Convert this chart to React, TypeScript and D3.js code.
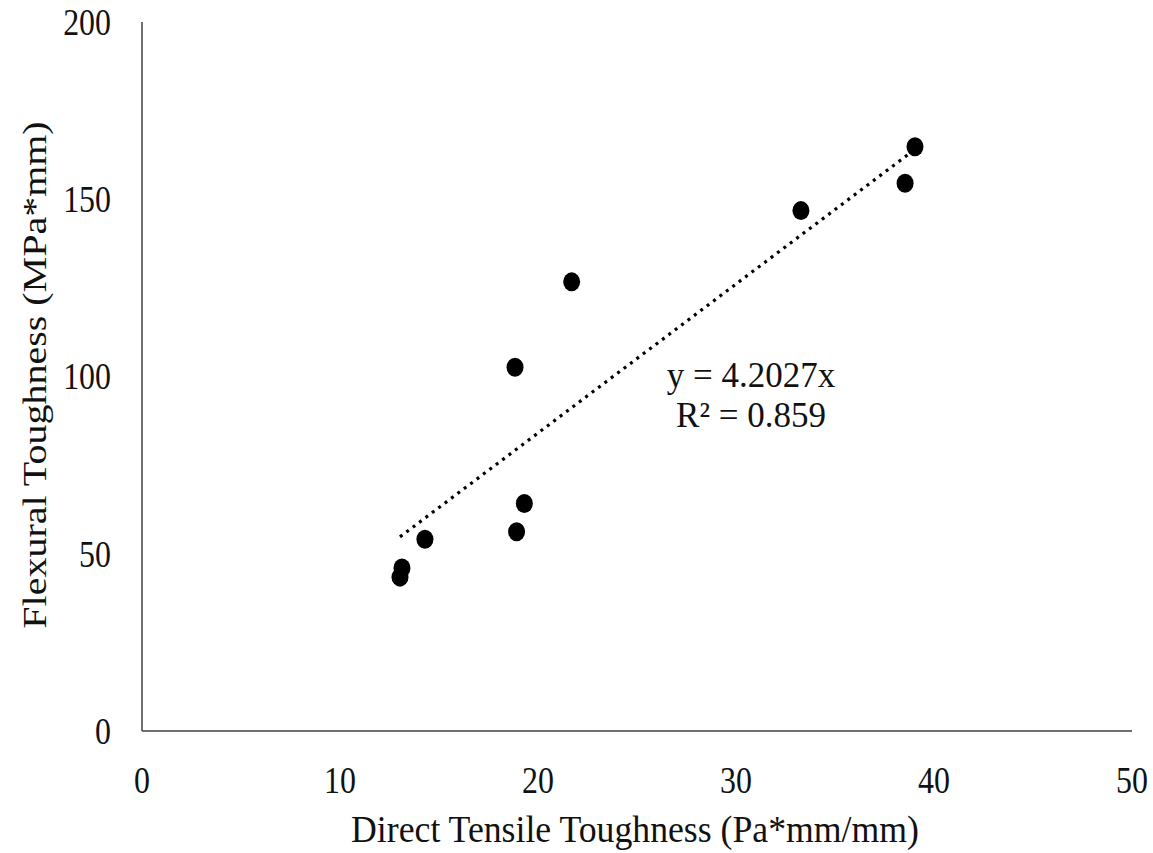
import React from "react";
import * as d3 from "d3";

const tensile = [13.03, 13.13, 14.29, 18.92, 19.31, 18.84, 21.7, 33.28, 38.54, 39.04];
const flexural = [43.4, 46.0, 54.1, 56.2, 64.2, 102.6, 126.7, 146.8, 154.5, 164.8];
const xTicks = [0, 10, 20, 30, 40, 50];
const yTicks = [0, 50, 100, 150, 200];
const slope = 4.2027;
const equationLines = ["y = 4.2027x", "R² = 0.859"];
const xTitle = "Direct Tensile Toughness (Pa*mm/mm)";
const yTitle = "Flexural Toughness (MPa*mm)";

const W = 1153;
const H = 853;
const font = "'Liberation Serif', 'Times New Roman', serif";

export default function App() {
  const x = d3.scaleLinear().domain([0, 50]).range([142, 1132]);
  const y = d3.scaleLinear().domain([0, 200]).range([731, 22]);
  const xMin = d3.min(tensile) as number;
  const xMax = d3.max(tensile) as number;
  const trend = d3.line<number>().x((d) => x(d)).y((d) => y(slope * d))([xMin, xMax]) as string;

  return (
    <svg width={W} height={H} style={{ position: "absolute", left: 0, top: 0, background: "#fff" }}>
      <line x1={x(0)} x2={x(0)} y1={y(200)} y2={y(0)} stroke="#404040" strokeWidth={1.5} />
      <line x1={x(0)} x2={x(50)} y1={y(0)} y2={y(0)} stroke="#404040" strokeWidth={1.5} />
      {yTicks.map((t) => (
        <text
          key={"y" + t}
          transform={`translate(111,${y(t)}) scale(0.84,1)`}
          dy="0.34em"
          textAnchor="end"
          fontFamily={font}
          fontSize={38}
          fill="#111"
        >
          {t}
        </text>
      ))}
      {xTicks.map((t) => (
        <text
          key={"x" + t}
          transform={`translate(${x(t)},${793}) scale(0.84,1)`}
          textAnchor="middle"
          fontFamily={font}
          fontSize={38}
          fill="#111"
        >
          {t}
        </text>
      ))}
      <text
        transform={`translate(635,842) scale(0.94,1)`}
        textAnchor="middle"
        fontFamily={font}
        fontSize={38}
        fill="#111"
      >
        {xTitle}
      </text>
      <text
        transform={`translate(46,375) rotate(-90) scale(1,0.85)`}
        textAnchor="middle"
        fontFamily={font}
        fontSize={40}
        fill="#111"
      >
        {yTitle}
      </text>
      <path d={trend} fill="none" stroke="#000" strokeWidth={3.2} strokeDasharray="3 5" />
      {tensile.map((t, i) => (
        <ellipse key={i} cx={x(t)} cy={y(flexural[i])} rx={8.5} ry={9.5} fill="#000" />
      ))}
      {equationLines.map((s, i) => (
        <text key={s} x={751} y={387 + i * 40} textAnchor="middle" fontFamily={font} fontSize={35} fill="#111">
          {s}
        </text>
      ))}
    </svg>
  );
}
